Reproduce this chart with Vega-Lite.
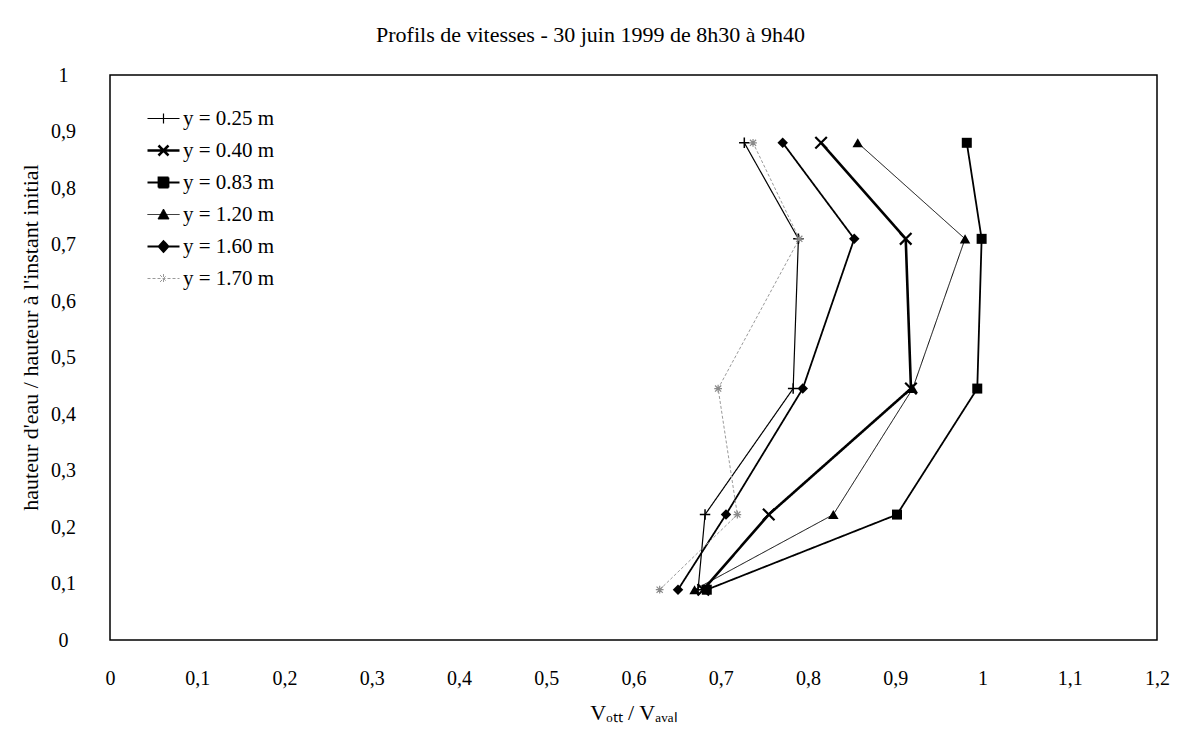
{
  "$schema": "https://vega.github.io/schema/vega-lite/v6.json",
  "width": 1047,
  "height": 565,
  "autosize": "none",
  "padding": {"left": 110, "top": 75, "right": 25, "bottom": 91},
  "background": "white",
  "title": {
    "text": "Profils de vitesses - 30 juin 1999 de 8h30 à 9h40",
    "font": "Liberation Serif",
    "fontSize": 22,
    "fontWeight": "normal",
    "color": "black",
    "offset": 18,
    "dx": -43,
    "anchor": "middle"
  },
  "data": {
    "values": [
      {"s": "y = 0.25 m", "v": 0.727, "h": 0.88},
      {"s": "y = 0.25 m", "v": 0.789, "h": 0.71},
      {"s": "y = 0.25 m", "v": 0.783, "h": 0.445},
      {"s": "y = 0.25 m", "v": 0.682, "h": 0.222},
      {"s": "y = 0.25 m", "v": 0.674, "h": 0.089},
      {"s": "y = 0.40 m", "v": 0.815, "h": 0.88},
      {"s": "y = 0.40 m", "v": 0.912, "h": 0.71},
      {"s": "y = 0.40 m", "v": 0.918, "h": 0.445},
      {"s": "y = 0.40 m", "v": 0.755, "h": 0.222},
      {"s": "y = 0.40 m", "v": 0.68, "h": 0.089},
      {"s": "y = 0.83 m", "v": 0.982, "h": 0.88},
      {"s": "y = 0.83 m", "v": 0.999, "h": 0.71},
      {"s": "y = 0.83 m", "v": 0.994, "h": 0.445},
      {"s": "y = 0.83 m", "v": 0.902, "h": 0.222},
      {"s": "y = 0.83 m", "v": 0.684, "h": 0.089},
      {"s": "y = 1.20 m", "v": 0.857, "h": 0.88},
      {"s": "y = 1.20 m", "v": 0.98, "h": 0.71},
      {"s": "y = 1.20 m", "v": 0.92, "h": 0.445},
      {"s": "y = 1.20 m", "v": 0.829, "h": 0.222},
      {"s": "y = 1.20 m", "v": 0.67, "h": 0.089},
      {"s": "y = 1.60 m", "v": 0.771, "h": 0.88},
      {"s": "y = 1.60 m", "v": 0.853, "h": 0.71},
      {"s": "y = 1.60 m", "v": 0.794, "h": 0.445},
      {"s": "y = 1.60 m", "v": 0.706, "h": 0.222},
      {"s": "y = 1.60 m", "v": 0.651, "h": 0.089},
      {"s": "y = 1.70 m", "v": 0.737, "h": 0.88},
      {"s": "y = 1.70 m", "v": 0.79, "h": 0.71},
      {"s": "y = 1.70 m", "v": 0.697, "h": 0.445},
      {"s": "y = 1.70 m", "v": 0.719, "h": 0.222},
      {"s": "y = 1.70 m", "v": 0.63, "h": 0.089}
    ]
  },
  "encoding": {
    "x": {
      "field": "v",
      "type": "quantitative",
      "scale": {"domain": [0, 1.2], "nice": false, "zero": false},
      "axis": {
        "values": [0, 0.1, 0.2, 0.3, 0.4, 0.5, 0.6, 0.7, 0.8, 0.9, 1, 1.1, 1.2],
        "labelExpr": "replace(format(datum.value, '.1~f'), '.', ',')",
        "title": "Vₒₜₜ / Vₐᵥₐₗ",
        "grid": false,
        "ticks": false,
        "domain": false,
        "labelPadding": 28,
        "labelFlush": false,
        "titlePadding": 14
      }
    },
    "y": {
      "field": "h",
      "type": "quantitative",
      "scale": {"domain": [0, 1], "nice": false, "zero": false},
      "axis": {
        "values": [0, 0.1, 0.2, 0.3, 0.4, 0.5, 0.6, 0.7, 0.8, 0.9, 1],
        "labelExpr": "replace(format(datum.value, '.1~f'), '.', ',')",
        "title": "hauteur d'eau / hauteur à l'instant initial",
        "grid": false,
        "ticks": false,
        "domain": false,
        "labelAlign": "center",
        "labelPadding": 47,
        "labelFlush": false,
        "titleX": -80,
        "titleY": 262,
        "titleAlign": "center",
        "titleBaseline": "middle"
      }
    }
  },
  "layer": [
    {
      "mark": {"type": "line"},
      "encoding": {
        "stroke": {
          "field": "s",
          "type": "nominal",
          "scale": {
            "domain": ["y = 0.25 m", "y = 0.40 m", "y = 0.83 m", "y = 1.20 m", "y = 1.60 m", "y = 1.70 m"],
            "range": ["black", "black", "black", "black", "black", "#9a9a9a"]
          },
          "legend": {"title": null}
        },
        "strokeWidth": {
          "field": "s",
          "type": "nominal",
          "scale": {
            "type": "ordinal",
            "domain": ["y = 0.25 m", "y = 0.40 m", "y = 0.83 m", "y = 1.20 m", "y = 1.60 m", "y = 1.70 m"],
            "range": [1.2, 2.6, 1.8, 1, 1.8, 1]
          },
          "legend": {"title": null}
        },
        "strokeDash": {
          "field": "s",
          "type": "nominal",
          "scale": {
            "domain": ["y = 0.25 m", "y = 0.40 m", "y = 0.83 m", "y = 1.20 m", "y = 1.60 m", "y = 1.70 m"],
            "range": [[1, 0], [1, 0], [1, 0], [1, 0], [1, 0], [3, 2]]
          },
          "legend": {"title": null}
        },
        "order": {"field": "h", "type": "quantitative"}
      }
    },
    {
      "transform": [{"filter": "datum.s == 'y = 0.25 m'"}],
      "mark": {"type": "point", "shape": "M-1,0H1M0,-1V1", "size": 110, "filled": false, "stroke": "black", "strokeWidth": 1.5, "opacity": 1}
    },
    {
      "transform": [{"filter": "datum.s == 'y = 0.40 m'"}],
      "mark": {"type": "point", "shape": "M-1.1,-1.1L1.1,1.1M-1.1,1.1L1.1,-1.1", "size": 110, "filled": false, "stroke": "black", "strokeWidth": 2.2, "opacity": 1}
    },
    {
      "transform": [{"filter": "datum.s == 'y = 0.83 m'"}],
      "mark": {"type": "point", "shape": "square", "size": 100, "filled": true, "fill": "black", "opacity": 1}
    },
    {
      "transform": [{"filter": "datum.s == 'y = 1.20 m'"}],
      "mark": {"type": "point", "shape": "triangle-up", "size": 110, "filled": true, "fill": "black", "opacity": 1}
    },
    {
      "transform": [{"filter": "datum.s == 'y = 1.60 m'"}],
      "mark": {"type": "point", "shape": "diamond", "size": 110, "filled": true, "fill": "black", "opacity": 1}
    },
    {
      "transform": [{"filter": "datum.s == 'y = 1.70 m'"}],
      "mark": {"type": "point", "shape": "M-0.8,-0.8L0.8,0.8M-0.8,0.8L0.8,-0.8M0,-1V1M-1,0H1", "size": 60, "filled": false, "stroke": "#8a8a8a", "strokeWidth": 1.2, "opacity": 1}
    },
    {
      "transform": [{"filter": "false"}],
      "mark": {"type": "point", "filled": true, "fill": "black", "strokeWidth": 1.4, "size": 100, "opacity": 1},
      "encoding": {
        "shape": {
          "field": "s",
          "type": "nominal",
          "scale": {
            "domain": ["y = 0.25 m", "y = 0.40 m", "y = 0.83 m", "y = 1.20 m", "y = 1.60 m", "y = 1.70 m"],
            "range": [
              "M-3.2,0H3.2M0,-1V1",
              "M-3.2,0H3.2M-1,-1L1,1M-1,1L1,-1",
              "M-3.2,0H3.2M-1,-1H1V1H-1Z",
              "M-3.2,0H3.2M0,-1.1L1.1,0.9H-1.1Z",
              "M-3.2,0H3.2M0,-1.1L1,0L0,1.1L-1,0Z",
              "M-3.2,0H3.2M-0.7,-0.7L0.7,0.7M-0.7,0.7L0.7,-0.7M0,-0.9V0.9"
            ]
          },
          "legend": {"title": null}
        },
        "stroke": {
          "field": "s",
          "type": "nominal",
          "legend": {"title": null}
        }
      }
    }
  ],
  "config": {
    "view": {"stroke": "black", "strokeWidth": 1.5},
    "font": "Liberation Serif",
    "axis": {
      "labelFont": "Liberation Serif",
      "labelFontSize": 20,
      "labelColor": "black",
      "titleFont": "Liberation Serif",
      "titleFontSize": 22,
      "titleFontWeight": "normal",
      "titleColor": "black"
    },
    "legend": {
      "orient": "none",
      "legendX": 43,
      "legendY": 33,
      "labelFont": "Liberation Serif",
      "labelFontSize": 21,
      "labelColor": "black",
      "labelOffset": 9,
      "rowPadding": 10,
      "symbolFillColor": "black",
      "symbolOpacity": 1
    }
  }
}
